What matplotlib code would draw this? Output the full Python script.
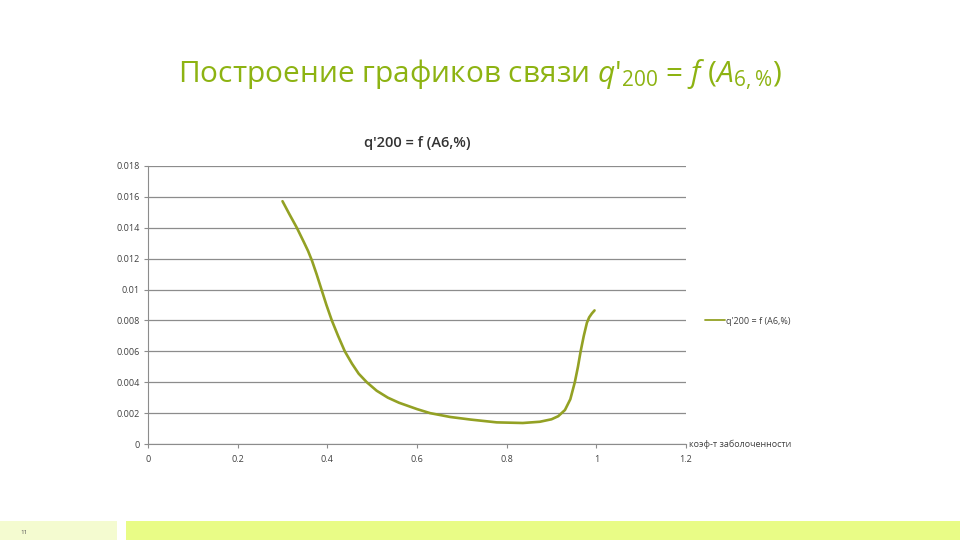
import matplotlib
matplotlib.use('Agg')
import matplotlib.pyplot as plt
from matplotlib.patches import Rectangle

# values
koef = [0.300, 0.315, 0.332, 0.348, 0.357, 0.366, 0.376, 0.387, 0.398, 0.410,
        0.424, 0.439, 0.455, 0.470, 0.488, 0.510, 0.535, 0.560, 0.600, 0.629,
        0.674, 0.720, 0.778, 0.836, 0.874, 0.900, 0.915, 0.930, 0.942, 0.952,
        0.959, 0.965, 0.972, 0.979, 0.984, 0.990, 0.996]
q200 = [0.01572, 0.01490, 0.01400, 0.01305, 0.01250, 0.01185, 0.01100, 0.01000, 0.00900, 0.00800,
        0.00700, 0.00600, 0.00520, 0.00455, 0.00400, 0.00345, 0.00300, 0.00267, 0.00226, 0.00200,
        0.00175, 0.00158, 0.00140, 0.00136, 0.00144, 0.00160, 0.00180, 0.00220, 0.00290, 0.00400,
        0.00500, 0.00600, 0.00700, 0.00785, 0.00820, 0.00845, 0.00865]
yticks = [0, 0.002, 0.004, 0.006, 0.008, 0.01, 0.012, 0.014, 0.016, 0.018]
ytick_labels = ['0', '0.002', '0.004', '0.006', '0.008', '0.01', '0.012', '0.014', '0.016', '0.018']
xticks = [0, 0.2, 0.4, 0.6, 0.8, 1, 1.2]
xtick_labels = ['0', '0.2', '0.4', '0.6', '0.8', '1', '1.2']

series_name = "q'200 = f (A6,%)"
line_color = '#93a124'
green = '#8db312'
grid_color = '#8c8c8c'
text_color = '#404040'

plt.rcParams['font.family'] = ['Open Sans', 'DejaVu Sans']
plt.rcParams['mathtext.fontset'] = 'custom'
plt.rcParams['mathtext.rm'] = 'Open Sans'
plt.rcParams['mathtext.it'] = 'Open Sans:italic'

fig = plt.figure(figsize=(9.6, 5.4), dpi=100)
fig.patch.set_facecolor('white')

# slide title
fig.text(0.5, 0.862, "Построение графиков связи $\\it{q}$'$_{200}$ = $\\it{f}$ ($\\it{A}_{6,\\%}$)",
         ha='center', va='center', fontsize=21.5, color=green)

ax = fig.add_axes([148 / 960, 96 / 540, 538 / 960, 278 / 540])
ax.plot(koef, q200, color=line_color, lw=1.9, solid_capstyle='round',
        solid_joinstyle='round', label=series_name)

ax.set_xlim(0, 1.2)
ax.set_ylim(0, 0.018)
ax.set_yticks(yticks)
ax.set_yticklabels(ytick_labels)
ax.set_xticks(xticks)
ax.set_xticklabels(xtick_labels)
ax.grid(axis='y', color=grid_color, lw=0.9)
ax.set_axisbelow(True)
for side in ['top', 'right']:
    ax.spines[side].set_visible(False)
for side in ['left', 'bottom']:
    ax.spines[side].set_color(grid_color)
ax.tick_params(axis='both', labelsize=6.5, colors=text_color, length=3, color=grid_color)
ax.tick_params(axis='y', pad=3)
ax.tick_params(axis='x', pad=5)
for lbl in ax.get_xticklabels() + ax.get_yticklabels():
    lbl.set_color(text_color)

ax.set_title(series_name, fontsize=10.5, color='#333333', pad=14, fontweight='semibold')

ax.text(1.005, 0.0, 'коэф-т заболоченности', transform=ax.get_yaxis_transform(),
        fontsize=6.5, color=text_color, ha='left', va='center')

leg = ax.legend(loc='center left', bbox_to_anchor=(1.02, 0.442), frameon=False,
                fontsize=6.5, handlelength=2.2, handletextpad=0.1)
for t in leg.get_texts():
    t.set_color(text_color)
for h in leg.get_lines():
    h.set_linewidth(1.3)

# footer bars
fig.add_artist(Rectangle((0, 0), 117 / 960, 19 / 540, transform=fig.transFigure,
                         facecolor='#f4fbd0', edgecolor='none'))
fig.add_artist(Rectangle((126 / 960, 0), 834 / 960, 19 / 540, transform=fig.transFigure,
                         facecolor='#e9fc86', edgecolor='none'))
fig.text(20 / 960, 8 / 540, '11', fontsize=4.5, color='#555555', va='center')

fig.savefig('out.png', dpi=100)
